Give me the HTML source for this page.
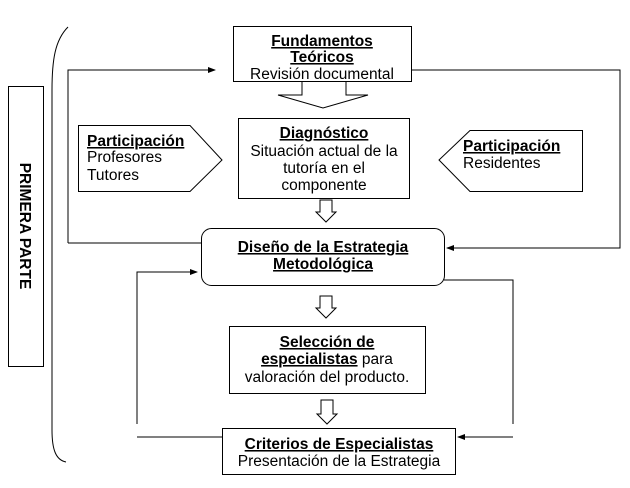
<!DOCTYPE html>
<html><head><style>body{margin:0;background:#fff}svg{display:block}
text{font-family:"Liberation Sans",Arial,sans-serif;font-size:15.5px;fill:#000}
.b{font-weight:bold;text-decoration:underline}</style></head><body>
<svg width="630" height="488" viewBox="0 0 630 488">
<defs><marker id="a" markerWidth="8" markerHeight="8" refX="7" refY="4" orient="auto" markerUnits="userSpaceOnUse"><path d="M0,1 L8,4 L0,7z" fill="#000"/></marker></defs>
<g fill="none" stroke="#000" stroke-width="1">
<path d="M68,27 C55,40 52,60 52,90 L52,430 C52,450 56,460 66,462"/>
<rect x="8.5" y="86.5" width="35" height="280"/>
<rect x="233.5" y="26.5" width="178" height="55"/>
<path d="M302,82 L302,95 L278,95 L323,108 L368,95 L346,95 L346,82"/>
<rect x="238.5" y="118.5" width="171" height="80"/>
<path d="M78.5,125.5 L190,125.5 L222,160 L190,191.5 L78.5,191.5z"/>
<path d="M470,130.5 L582.5,130.5 L582.5,191.5 L470,191.5 L439,160z"/>
<path d="M320,200 L320,212 L316,212 L326,222 L336,212 L332,212 L332,200z"/>
<rect x="201.5" y="228.5" width="243" height="57" rx="10"/>
<path d="M320,296 L320,308 L316,308 L326,318 L336,308 L332,308 L332,296z"/>
<rect x="229.5" y="326.5" width="196" height="67"/>
<path d="M321,400 L321,414 L317,414 L327,424 L337,414 L333,414 L333,400z"/>
<rect x="222.5" y="428.5" width="233" height="46"/>
<path d="M68,243 L68,70 L215,70" marker-end="url(#a)"/>
<path d="M68,243 L201,243"/>
<path d="M411,70 L620,70 L620,248 L447,248" marker-end="url(#a)"/>
<path d="M137,424 L137,272 L197,272" marker-end="url(#a)"/>
<path d="M444,280 L513,280 L513,424"/>
<path d="M137,437 L222,437"/>
<path d="M513,437 L458,437" marker-end="url(#a)"/>
</g>
<text transform="translate(20,226) rotate(90)" text-anchor="middle" style="font-weight:bold">PRIMERA PARTE</text>
<g text-anchor="middle">
<text x="322" y="46" class="b">Fundamentos</text>
<text x="322" y="62" class="b">Teóricos</text>
<text x="322" y="79">Revisión documental</text>
<text x="324" y="138" class="b">Diagnóstico</text>
<text x="324" y="156">Situación actual de la</text>
<text x="324" y="173">tutoría en el</text>
<text x="324" y="190">componente</text>
<text x="323" y="252" class="b">Diseño de la Estrategia</text>
<text x="323" y="269" class="b">Metodológica</text>
<text x="327" y="347" class="b">Selección de</text>
<text x="327" y="364"><tspan class="b">especialistas</tspan> para</text>
<text x="327" y="382">valoración del producto.</text>
<text x="339" y="449" class="b">Criterios de Especialistas</text>
<text x="339" y="466">Presentación de la Estrategia</text>
</g>
<text x="87" y="146" class="b">Participación</text>
<text x="87" y="162">Profesores</text>
<text x="87" y="180">Tutores</text>
<text x="463" y="151" class="b">Participación</text>
<text x="463" y="168">Residentes</text>
</svg></body></html>
